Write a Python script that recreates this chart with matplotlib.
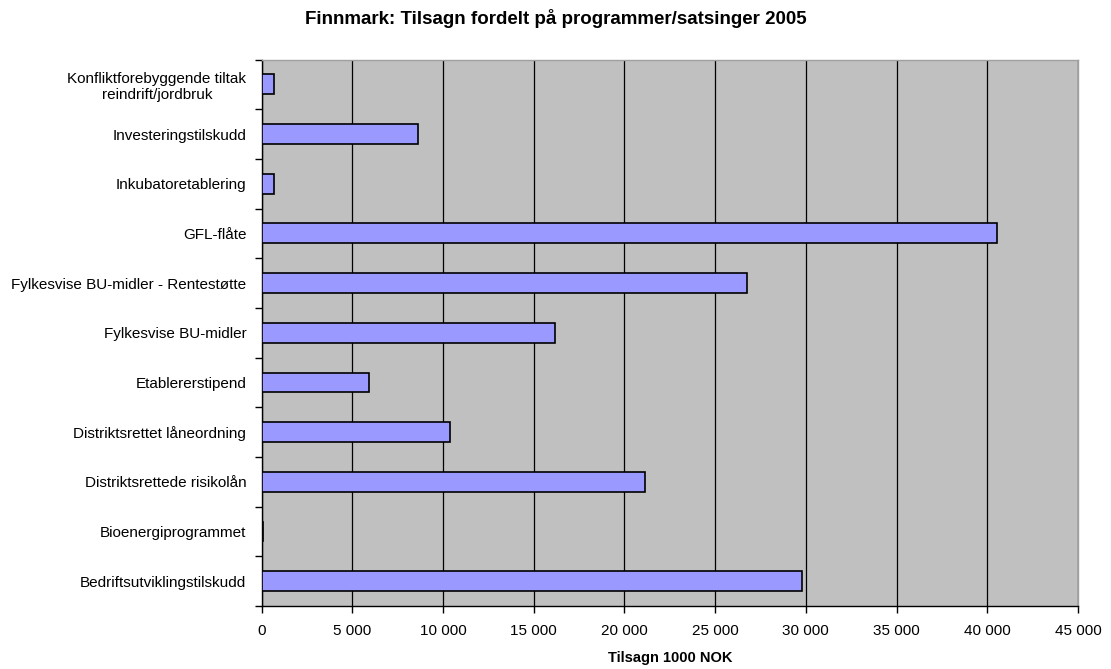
import matplotlib
matplotlib.use("Agg")
import matplotlib.pyplot as plt
from matplotlib.ticker import FuncFormatter, FixedLocator

# categories from bottom to top (as drawn)
programmer = ["Bedriftsutviklingstilskudd", "Bioenergiprogrammet",
              "Distriktsrettede risikolån", "Distriktsrettet låneordning",
              "Etablererstipend", "Fylkesvise BU-midler",
              "Fylkesvise BU-midler - Rentestøtte", "GFL-flåte",
              "Inkubatoretablering", "Investeringstilskudd",
              "Konfliktforebyggende tiltak\nreindrift/jordbruk"]
tilsagn = [29800, 80, 21150, 10400, 5900, 16200, 26750, 40550, 700, 8650, 700]

xticks = list(range(0, 45001, 5000))

plt.rcParams['font.family'] = ['Liberation Sans', 'DejaVu Sans']

fig = plt.figure(figsize=(11.11, 6.69), dpi=100)
ax = fig.add_axes([0.2354, 0.0942, 0.9703 - 0.2354, 0.911 - 0.0942])
ax.set_facecolor('#C0C0C0')

ypos = list(range(len(programmer)))
ax.barh(ypos, tilsagn, height=0.4, color='#9999FF', edgecolor='black',
        linewidth=1.2, zorder=3)

ax.set_xlim(0, 45000)
ax.set_ylim(-0.5, len(programmer) - 0.5)
ax.set_xticks(xticks)
ax.xaxis.set_major_formatter(FuncFormatter(lambda v, p: f"{int(v):,}".replace(",", " ")))
ax.grid(axis='x', color='black', linewidth=0.9, zorder=1)

ax.set_yticks(ypos)
ax.set_yticklabels(programmer, fontsize=11, ha='right', multialignment='center')
ax.tick_params(axis='y', which='major', length=0, pad=11)
ax.yaxis.set_minor_locator(FixedLocator([i - 0.5 for i in range(len(programmer) + 1)]))
ax.tick_params(axis='y', which='minor', length=5, width=1, direction='out')
ax.tick_params(axis='x', length=5, width=1, direction='out', labelsize=11, pad=8)

for side in ['top', 'right']:
    ax.spines[side].set_color('#A0A0A0')
    ax.spines[side].set_linewidth(1)
for side in ['left', 'bottom']:
    ax.spines[side].set_color('black')
    ax.spines[side].set_linewidth(1)

ax.set_xlabel('Tilsagn 1000 NOK', fontsize=10.5, fontweight='bold', labelpad=9)
fig.suptitle('Finnmark: Tilsagn fordelt på programmer/satsinger 2005',
             fontsize=13.5, fontweight='bold', y=0.972, va='center')

plt.savefig('out.png', dpi=100)
